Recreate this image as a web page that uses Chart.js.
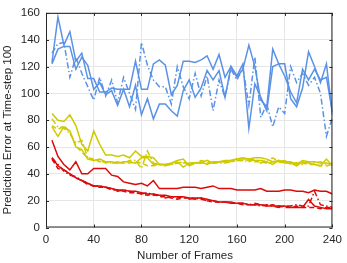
<!DOCTYPE html>
<html>
<head>
<meta charset="utf-8">
<script src="https://cdn.jsdelivr.net/npm/chart.js@4.4.1/dist/chart.umd.min.js"></script>
<style>
html,body{margin:0;padding:0;background:#fff;}
#wrap{width:347px;height:263px;position:relative;}
</style>
</head>
<body>
<div id="wrap"><canvas id="c" width="347" height="263"></canvas></div>
<script>
// Frames (x values)
const frames = [5,10,15,20,25,30,35,40,45,50,55,60,65,70,75,80,85,90,95,100,105,110,115,120,125,130,135,140,145,150,155,160,165,170,175,180,185,190,195,200,205,210,215,220,225,230,235,240];

// Blue series
const blueSolidA = [123,157,136,146,124,130,111,111,101,101,104,103,103,103,124,103,103,122,125,121,99,106,124,124,123,125,128,118,129,112,120,112,118,136,120,95,90,133,122,122,96,90,104,131,120,108,122,84];
const blueSolidB = [122,133,135,135,118,127,121,103,108,99,102,91,103,90,106,84,96,81,92,92,87,83,102,110,97,104,117,110,117,97,120,113,122,74,107,97,87,120,122,113,101,93,118,110,118,110,112,86];
const blueDashDot = [130,137,138,112,127,115,105,95,112,98,110,93,112,100,88,138,121,110,105,105,92,120,105,96,115,98,113,87,110,97,118,110,119,91,127,82,92,75,90,85,120,108,115,106,112,100,68,82];

// Yellow series
const yellowSolidA = [85,80,79,84,76,62,57,72,62,54,54,53,54,52,57,53,53,52,47,47,48,50,51,46,48,48,50,48,49,50,50,51,52,51,52,52,51,49,50,49,49,47,50,49,49,48,48,47];
const yellowSolidB = [75,68,75,72,60,58,51,50,51,49,49,48,49,49,48,52,52,47,47,47,48,49,45,48,48,49,47,49,49,49,50,51,51,51,50,50,49,47,50,48,48,46,49,48,47,46,51,46];
const yellowDashDot = [81,75,74,70,63,65,52,50,50,48,48,49,48,50,50,44,57,48,47,46,47,48,49,47,48,50,49,48,48,48,49,50,50,49,51,48,50,52,49,50,47,48,47,49,48,49,47,48];
const yellowDashed = [76,73,76,71,61,56,52,51,49,49,48,48,48,48,49,48,46,46,47,47,47,48,48,48,48,48,48,48,49,49,49,50,50,50,49,49,48,49,49,48,48,48,48,47,47,46,46,47];

// Red series
const redSolidA = [65,53,47,43,49,40,40,44,44,44,39,38,34,33,32,33,31,35,29,29,29,29,30,30,30,29,30,31,29,29,29,28,28,28,28,29,27,27,27,28,28,27,27,26,28,27,27,25];
const redSolidB = [52,46,43,40,37,35,33,31,31,30,29,28,28,27,27,26,25,25,24,24,23,23,23,22,22,22,21,20,19,19,19,18,18,17,17,17,16,16,16,16,15,15,15,21,16,15,14,14];
const redDashed = [51,44,43,40,37,35,32,31,30,30,28,28,27,26,26,25,24,25,23,23,22,21,22,22,21,22,20,19,19,19,18,18,17,17,18,17,16,17,16,15,15,16,15,15,15,14,15,15];
const redDashDot = [52,47,42,39,38,35,33,31,31,30,29,27,28,27,26,25,26,24,24,22,23,22,23,21,22,21,20,20,19,19,18,18,18,17,17,16,17,16,15,16,16,17,16,16,27,17,16,15];

// Tick labels
const xTicks = [0,40,80,120,160,200,240];
const yTicks = [0,20,40,60,80,100,120,140,160];

const BLUE = '#5a92e6', YELLOW = '#cfca00', RED = '#dc0a0a';
const DASHED = [5,3], DASHDOT = [6,2.5,1.5,2.5];

function ds(vals, color, dash) {
  return {
    data: frames.map((f, i) => ({x: f, y: vals[i]})),
    borderColor: color, backgroundColor: color,
    borderWidth: 1.5, borderDash: dash || [], pointRadius: 0,
    tension: 0, fill: false
  };
}

const datasets = [
  ds(blueSolidA, BLUE), ds(blueSolidB, BLUE), ds(blueDashDot, BLUE, DASHDOT),
  ds(yellowSolidA, YELLOW), ds(yellowSolidB, YELLOW), ds(yellowDashDot, YELLOW, DASHDOT), ds(yellowDashed, YELLOW, DASHED),
  ds(redSolidA, RED), ds(redSolidB, RED), ds(redDashed, RED, DASHED), ds(redDashDot, RED, DASHDOT)
];

const AX = '#262626';
const FONT = 'Liberation Sans, Arial, Helvetica, sans-serif';

const boxPlugin = {
  id: 'box',
  afterDraw(chart) {
    const {ctx, chartArea: a, scales} = chart;
    ctx.save();
    ctx.strokeStyle = AX;
    ctx.lineWidth = 1;
    ctx.strokeRect(a.left + 0.5, a.top + 0.5, a.right - a.left - 1, a.bottom - a.top - 1);
    const tl = 3;
    ctx.beginPath();
    xTicks.forEach(v => {
      const px = Math.round(scales.x.getPixelForValue(v)) + 0.5;
      ctx.moveTo(px, a.bottom); ctx.lineTo(px, a.bottom - tl);
      ctx.moveTo(px, a.top); ctx.lineTo(px, a.top + tl);
    });
    yTicks.forEach(v => {
      const py = Math.round(scales.y.getPixelForValue(v)) + 0.5;
      ctx.moveTo(a.left, py); ctx.lineTo(a.left + tl, py);
      ctx.moveTo(a.right, py); ctx.lineTo(a.right - tl, py);
    });
    ctx.stroke();
    // Axis titles
    ctx.fillStyle = AX;
    ctx.font = '11.5px ' + FONT;
    ctx.textAlign = 'center';
    ctx.textBaseline = 'middle';
    ctx.fillText('Number of Frames', 185, 256);
    ctx.translate(8, 130);
    ctx.rotate(-Math.PI / 2);
    ctx.fillText('Prediction Error at Time-step 100', 0, 0);
    ctx.restore();
  }
};

new Chart(document.getElementById('c'), {
  type: 'line',
  data: {datasets},
  options: {
    responsive: false,
    animation: false,
    devicePixelRatio: 1,
    layout: {padding: {left: 0, right: 11, top: 8, bottom: 0}},
    plugins: {legend: {display: false}, tooltip: {enabled: false}},
    scales: {
      x: {
        type: 'linear', min: 0, max: 240,
        afterBuildTicks: s => { s.ticks = xTicks.map(v => ({value: v})); },
        afterFit: s => { s.height = 35.5; },
        grid: {color: '#e6e6e6', drawTicks: false, lineWidth: 1},
        border: {display: false},
        ticks: {color: AX, font: {family: FONT, size: 11.5}, padding: 5, maxRotation: 0}
      },
      y: {
        type: 'linear', min: 0, max: 160,
        afterBuildTicks: s => { s.ticks = yTicks.map(v => ({value: v})); },
        afterFit: s => { s.width = 46; },
        grid: {color: '#e6e6e6', drawTicks: false, lineWidth: 1},
        border: {display: false},
        ticks: {color: AX, font: {family: FONT, size: 11.5}, padding: 6}
      }
    }
  },
  plugins: [boxPlugin]
});
</script>
</body>
</html>
